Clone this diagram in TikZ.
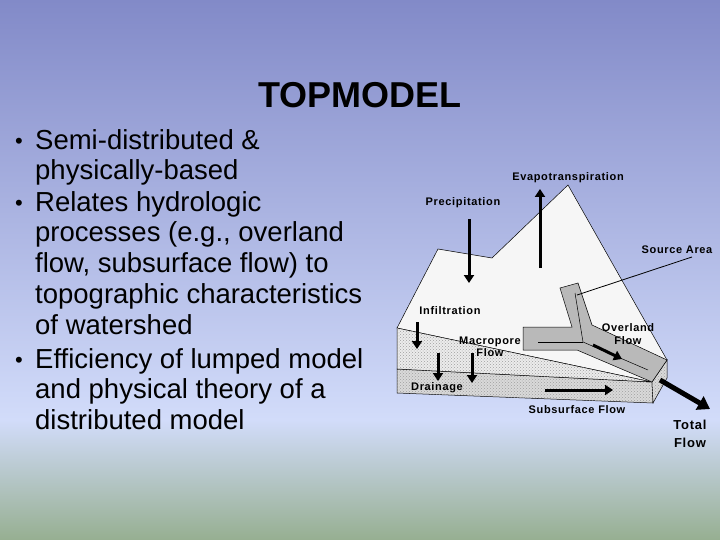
\documentclass[tikz,border=0pt]{standalone}
\usepackage{fontspec}
\setmainfont{Liberation Sans}
\usetikzlibrary{arrows.meta,patterns}
\begin{document}
\begin{tikzpicture}[x=1pt,y=-1pt,
  lbl/.style={font=\bfseries\fontsize{11}{12.5}\selectfont\addfontfeature{LetterSpace=6},align=center,inner sep=0pt},
  arr/.style={line width=3pt,-{Triangle[length=8pt,width=10pt]}},
  bul/.style={anchor=north west,align=left,inner sep=0pt,font=\fontsize{27.5}{30.8}\selectfont},
  hatch/.style={draw=black,line width=0.5pt,postaction={pattern=crosshatch dots,pattern color=gray!75}}]
\useasboundingbox (0,0) rectangle (720,540);
\shade[top color={rgb,255:red,130;green,138;blue,200},bottom color={rgb,255:red,210;green,220;blue,250}] (0,0) rectangle (720,420);
\shade[top color={rgb,255:red,210;green,220;blue,250},bottom color={rgb,255:red,150;green,175;blue,145}] (0,420) rectangle (720,540);
\node[font=\bfseries\fontsize{36}{40}\selectfont] (title) at (360,95) {TOPMODEL};
\node[bul] (b1) at (35,129) {Semi-distributed \&\\physically-based};
\node[bul] (b2) at (35,191) {Relates hydrologic\\processes (e.g., overland\\flow, subsurface flow) to\\topographic characteristics\\of watershed};
\node[bul] (b3) at (35,348) {Efficiency of lumped model\\and physical theory of a\\distributed model};
\foreach \y/\n in {143/d1,205/d2,362/d3} \node[font=\fontsize{22}{24}\selectfont] (\n) at (19,\y) {•};
% mountain
\fill[white!93!gray,draw=black,line width=0.5pt] (397,328) -- (438,249) -- (492,258) -- (568,185) -- (667,360) -- (652,382) -- cycle;
% lower slab
\filldraw[hatch,fill=gray!30] (397,369) -- (652,382) -- (653,403) -- (397,393) -- cycle;
\filldraw[hatch,fill=gray!30] (652,382) -- (667,360) -- (667,378) -- (653,403) -- cycle;
% upper wedge
\filldraw[hatch,fill=gray!15] (397,328) -- (652,382) -- (397,369) -- cycle;
% channel
\filldraw[fill=gray!55,draw=black,line width=0.5pt] (523,327) -- (572,327) -- (560,288) -- (578,283) -- (592,325) -- (667,360) -- (652,382) -- (577,350) -- (523,350) -- cycle;
\draw[line width=0.5pt] (538,342) -- (583,342);
\draw[line width=0.5pt] (575,293) -- (583,342) -- (648,370);
% labels
\node[lbl] (evap) at (568,178) {Evapotranspiration};
\node[lbl] (prec) at (463,203) {Precipitation};
\node[lbl] (src) at (677,250) {Source Area};
\node[lbl] (inf) at (450,311) {Infiltration};
\node[lbl,align=center] (macro) at (490,347) {Macropore\\Flow};
\node[lbl,align=center] (over) at (628,334) {Overland\\Flow};
\node[lbl] (drain) at (437,388) {Drainage};
\node[lbl] (sub) at (577,410) {Subsurface Flow};
\node[lbl,font=\bfseries\fontsize{13}{18}\selectfont\addfontfeature{LetterSpace=6}] (tot) at (690,434) {Total\\Flow};
% arrows
\coordinate (p1) at (469,219); \coordinate (p2) at (469,283);
\coordinate (e1) at (540,268); \coordinate (e2) at (540,189);
\coordinate (i1) at (417,322); \coordinate (i2) at (417,349);
\coordinate (d1a) at (438,353); \coordinate (d1b) at (438,381);
\coordinate (d2a) at (472,353); \coordinate (d2b) at (472,383);
\coordinate (o1) at (593,345); \coordinate (o2) at (622,359);
\coordinate (s1) at (545,390); \coordinate (s2) at (613,390);
\coordinate (t1) at (660,380); \coordinate (t2) at (710,409);
\coordinate (sa1) at (692,257); \coordinate (sa2) at (577,295);
\draw[arr] (p1) -- (p2);
\draw[arr] (e1) -- (e2);
\draw[arr] (i1) -- (i2);
\draw[arr] (d1a) -- (d1b);
\draw[arr] (d2a) -- (d2b);
\draw[arr] (o1) -- (o2);
\draw[arr] (s1) -- (s2);
\draw[line width=5pt,-{Triangle[length=12pt,width=15pt]}] (t1) -- (t2);
\draw[line width=0.8pt] (sa1) -- (sa2);
\end{tikzpicture}
\end{document}
